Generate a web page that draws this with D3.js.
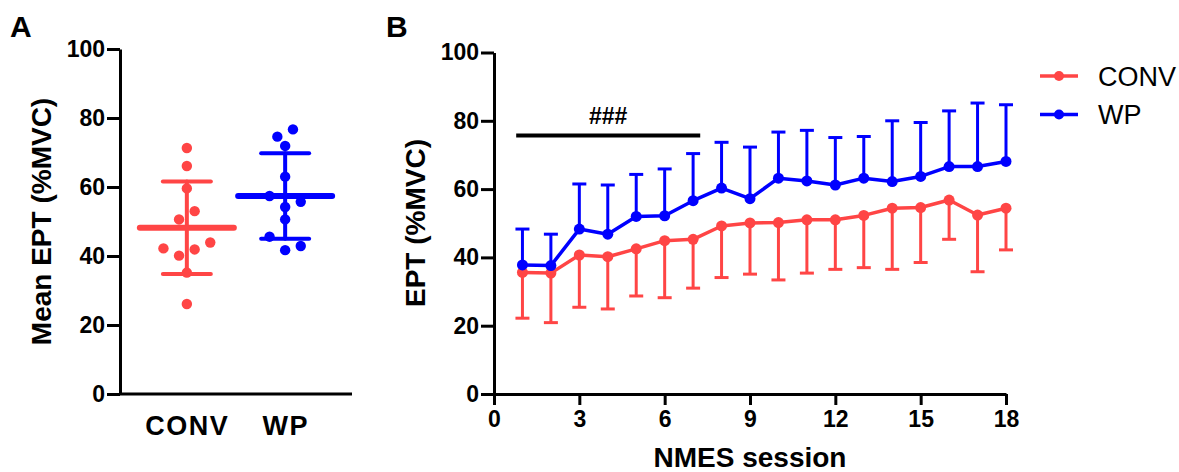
<!DOCTYPE html>
<html><head><meta charset="utf-8">
<script src="https://cdn.jsdelivr.net/npm/d3@7"></script>
<style>
body{margin:0;background:#fff}
svg{display:block}
text{font-family:"Liberation Sans",Arial,Helvetica,sans-serif}
</style>
</head><body>
<svg id="c" width="1179" height="472"></svg>
<script>
// ---------- Data ----------
const groups = ["CONV", "WP"];
const convValues = [71.3, 66.1, 59.6, 53.0, 50.6, 43.9, 42.2, 41.9, 40.1, 35.2, 26.1];
const wpValues   = [76.7, 74.6, 71.9, 63.0, 57.4, 55.7, 54.2, 50.6, 45.6, 42.9, 41.7];
const groupMean  = [48.2, 57.4];
const groupSD    = [13.4, 12.4];
const yTicks     = [0, 20, 40, 60, 80, 100];

const sessions   = [1,2,3,4,5,6,7,8,9,10,11,12,13,14,15,16,17,18];
const convMean   = [35.6,35.4,40.7,40.2,42.5,44.9,45.3,49.2,50.1,50.2,51.0,51.0,52.3,54.4,54.6,56.8,52.4,54.4];
const convSD     = [13.4,14.5,15.3,15.3,13.8,16.7,14.3,15.1,15.0,16.8,15.6,14.5,15.3,17.9,16.1,11.5,16.6,12.2];
const wpMean     = [37.8,37.6,48.3,46.8,52.0,52.2,56.6,60.3,57.2,63.2,62.4,61.2,63.2,62.2,63.7,66.6,66.6,68.1];
const wpSD       = [10.5,9.2,13.2,14.4,12.3,13.7,13.8,13.4,15.1,13.5,14.8,13.9,12.2,17.8,15.8,16.3,18.6,16.6];
const xTicks     = [0, 3, 6, 9, 12, 15, 18];
const sigRange   = [0.78, 7.25];
const sigLabel   = "###";

const RED = "#ff4545", BLUE = "#0000ff";
const svg = d3.select("#c");

// ---------- Panel A ----------
const yA = d3.scaleLinear().domain([0, 100]).range([394, 49]);
const xA = d3.scalePoint().domain(groups).range([120, 352]).padding(0.68);

const gA = svg.append("g");
const ayA = gA.append("g").attr("transform", "translate(120,0)")
  .call(d3.axisLeft(yA).tickValues(yTicks).tickSize(13).tickSizeOuter(0).tickPadding(2));
const axA = gA.append("g").attr("transform", "translate(0,394)")
  .call(d3.axisBottom(xA).tickSize(0).tickSizeOuter(0).tickPadding(22));
axA.select(".domain").attr("d", "M120,0H352");
[ayA, axA].forEach(a => {
  a.select(".domain").attr("stroke", "#000").attr("stroke-width", 3);
  a.selectAll(".tick line").attr("stroke", "#000").attr("stroke-width", 3);
});
ayA.selectAll(".tick text").attr("font-size", 23).attr("font-weight", "bold").attr("fill", "#000");
axA.selectAll(".tick text").attr("font-size", 27).attr("font-weight", "bold")
  .attr("fill", "#000").attr("letter-spacing", 1.5).attr("dy", "0.71em");

function swarm(values, cx, step, binUnits) {
  const sorted = values.slice().sort((a, b) => b - a);
  const bins = []; let cur = [];
  sorted.forEach(v => {
    if (cur.length && cur[0] - v > binUnits) { bins.push(cur); cur = []; }
    cur.push(v);
  });
  if (cur.length) bins.push(cur);
  const out = [];
  bins.forEach(b => {
    const n = b.length;
    const slots = d3.range(n).map(k => k - (n - 1) / 2);
    slots.sort((a, c) => Math.abs(c) - Math.abs(a) || (n % 2 ? a - c : c - a));
    b.forEach((v, k) => out.push({ v, dx: slots[k] * step }));
  });
  return out;
}

const seriesA = [convValues, wpValues];
const colA = [RED, BLUE];
groups.forEach((g, i) => {
  const cx = xA(g);
  const pts = swarm(seriesA[i], cx, 15.6, 4.5);
  gA.append("g").selectAll("circle").data(pts).join("circle")
    .attr("cx", d => cx + d.dx).attr("cy", d => yA(d.v)).attr("r", 5.2)
    .attr("fill", colA[i]);
  const m = groupMean[i], s = groupSD[i];
  const eg = gA.append("g").attr("stroke", colA[i]).attr("stroke-linecap", "round");
  eg.append("line").attr("x1", cx).attr("x2", cx).attr("y1", yA(m + s)).attr("y2", yA(m - s)).attr("stroke-width", 4);
  [m + s, m - s].forEach(v => eg.append("line").attr("x1", cx - 24).attr("x2", cx + 24)
    .attr("y1", yA(v)).attr("y2", yA(v)).attr("stroke-width", 4));
  eg.append("line").attr("x1", cx - 47).attr("x2", cx + 47).attr("y1", yA(m)).attr("y2", yA(m)).attr("stroke-width", 6);
});

gA.append("text").attr("transform", "translate(51,221.5) rotate(-90)")
  .attr("text-anchor", "middle").attr("font-size", 28).attr("font-weight", "bold")
  .text("Mean EPT (%MVC)");
svg.append("text").attr("x", 10).attr("y", 37).attr("font-size", 30).attr("font-weight", "bold").text("A");

// ---------- Panel B ----------
const xB = d3.scaleLinear().domain([0, 18]).range([494, 1006]);
const yB = d3.scaleLinear().domain([0, 100]).range([394, 52.5]);
const gB = svg.append("g");
const ayB = gB.append("g").attr("transform", "translate(494,0)")
  .call(d3.axisLeft(yB).tickValues(yTicks).tickSize(13).tickSizeOuter(0).tickPadding(2));
const axB = gB.append("g").attr("transform", "translate(0,394)")
  .call(d3.axisBottom(xB).tickValues(xTicks).tickSize(11).tickSizeOuter(0).tickPadding(6));
[ayB, axB].forEach(a => {
  a.select(".domain").attr("stroke", "#000").attr("stroke-width", 3);
  a.selectAll(".tick line").attr("stroke", "#000").attr("stroke-width", 3);
  a.selectAll(".tick text").attr("font-size", 23).attr("font-weight", "bold").attr("fill", "#000");
});

function drawSeries(mean, sd, color, dir) {
  const g = gB.append("g");
  const data = sessions.map((s, i) => ({ s, m: mean[i], e: mean[i] + dir * sd[i] }));
  const eg = g.append("g").attr("stroke", color).attr("stroke-width", 3);
  eg.selectAll("line.v").data(data).join("line")
    .attr("x1", d => xB(d.s)).attr("x2", d => xB(d.s)).attr("y1", d => yB(d.m)).attr("y2", d => yB(d.e));
  eg.selectAll("line.c").data(data).join("line")
    .attr("x1", d => xB(d.s) - 7).attr("x2", d => xB(d.s) + 7).attr("y1", d => yB(d.e)).attr("y2", d => yB(d.e));
  g.append("path").datum(data)
    .attr("d", d3.line().x(d => xB(d.s)).y(d => yB(d.m)))
    .attr("fill", "none").attr("stroke", color).attr("stroke-width", 3.5).attr("stroke-linejoin", "round");
  g.selectAll("circle").data(data).join("circle")
    .attr("cx", d => xB(d.s)).attr("cy", d => yB(d.m)).attr("r", 5.5).attr("fill", color);
}
drawSeries(convMean, convSD, RED, -1);
drawSeries(wpMean, wpSD, BLUE, 1);

gB.append("line").attr("x1", xB(sigRange[0])).attr("x2", xB(sigRange[1]))
  .attr("y1", 135.5).attr("y2", 135.5).attr("stroke", "#000").attr("stroke-width", 4);
gB.append("text").attr("x", (xB(sigRange[0]) + xB(sigRange[1])) / 2).attr("y", 124)
  .attr("text-anchor", "middle").attr("font-size", 23).attr("font-weight", "bold").text(sigLabel);

gB.append("text").attr("transform", "translate(425,223) rotate(-90)")
  .attr("text-anchor", "middle").attr("font-size", 28).attr("font-weight", "bold")
  .text("EPT (%MVC)");
gB.append("text").attr("x", 750).attr("y", 467).attr("text-anchor", "middle")
  .attr("font-size", 28).attr("font-weight", "bold").text("NMES session");
svg.append("text").attr("x", 386).attr("y", 37).attr("font-size", 30).attr("font-weight", "bold").text("B");

const legend = [{ name: "CONV", color: RED, y: 76 }, { name: "WP", color: BLUE, y: 114.5 }];
const lg = svg.append("g");
legend.forEach(l => {
  lg.append("line").attr("x1", 1040).attr("x2", 1078).attr("y1", l.y).attr("y2", l.y)
    .attr("stroke", l.color).attr("stroke-width", 3.5);
  lg.append("circle").attr("cx", 1059).attr("cy", l.y).attr("r", 5).attr("fill", l.color);
  lg.append("text").attr("x", 1098).attr("y", l.y + 9.5).attr("font-size", 27).text(l.name);
});
</script>
</body></html>
